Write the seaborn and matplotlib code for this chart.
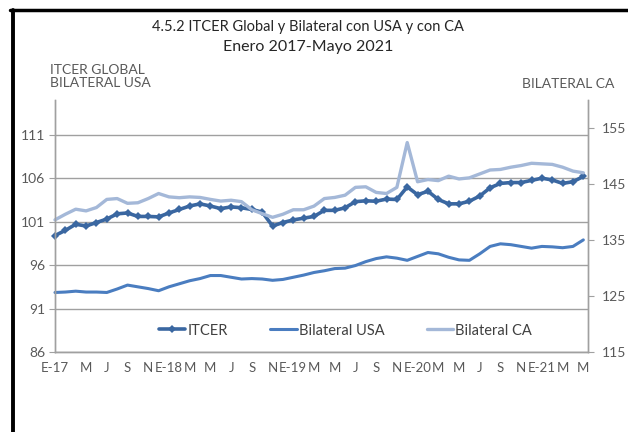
import numpy as np
import pandas as pd
import matplotlib.pyplot as plt
import seaborn as sns
from matplotlib.lines import Line2D

# ITCER global (eje izq), bilateral USA (eje izq), bilateral CA (eje der)
itcer = [99.4, 100.0, 100.7, 100.5, 100.9, 101.3, 101.9, 102.0, 101.6, 101.6,
         101.55, 102.0, 102.4, 102.8, 103.05, 102.8, 102.5, 102.7, 102.6, 102.4,
         102.1, 100.5, 100.9, 101.2, 101.4, 101.6, 102.3, 102.3, 102.6, 103.3,
         103.4, 103.35, 103.6, 103.55, 105.0, 104.1, 104.5, 103.55, 103.05, 103.05,
         103.35, 103.95, 104.9, 105.4, 105.5, 105.5, 105.75, 106.0, 105.8, 105.4,
         105.6, 106.2]
usa = [92.85, 92.9, 93.0, 92.9, 92.9, 92.85, 93.25, 93.7, 93.5, 93.3,
       93.05, 93.5, 93.85, 94.2, 94.45, 94.8, 94.8, 94.6, 94.4, 94.45,
       94.4, 94.25, 94.35, 94.6, 94.85, 95.15, 95.35, 95.6, 95.65, 95.95,
       96.4, 96.75, 96.95, 96.8, 96.55, 97.0, 97.45, 97.3, 96.9, 96.6,
       96.55, 97.3, 98.15, 98.45, 98.35, 98.15, 97.95, 98.15, 98.1, 98.0,
       98.15, 98.9]
ca = [138.6, 139.6, 140.5, 140.2, 140.8, 142.25, 142.4, 141.55, 141.65, 142.4,
      143.3, 142.7, 142.55, 142.7, 142.6, 142.25, 141.95, 142.1, 141.85, 140.4,
      139.7, 139.05, 139.6, 140.4, 140.4, 141.05, 142.4, 142.6, 143.0, 144.4,
      144.5, 143.5, 143.3, 144.4, 152.4, 145.4, 145.8, 145.6, 146.4, 145.9,
      146.1, 146.8, 147.5, 147.6, 148.0, 148.3, 148.7, 148.6, 148.5, 148.0,
      147.3, 147.0]

x_labels = ['E-17', 'M', 'J', 'S', 'N',
            'E-18', 'M', 'M', 'J', 'S', 'N',
            'E-19', 'M', 'M', 'J', 'S', 'N',
            'E-20', 'M', 'M', 'J', 'S', 'N',
            'E-21', 'M', 'M']

df = pd.DataFrame({'mes': np.arange(len(itcer)), 'ITCER': itcer,
                   'Bilateral USA': usa, 'Bilateral CA': ca})

c_itcer = '#3A67A1'
c_usa = '#4A7DC0'
c_ca = '#A4B8D8'
gris = '#595959'
linea = '#A0A0A0'

sns.set_style('white')
plt.rcParams['font.family'] = ['Lato', 'DejaVu Sans']

fig = plt.figure(figsize=(6.28, 4.32), dpi=100)
ax = fig.add_axes([55 / 628, 1 - 352 / 432, 533 / 628, 252 / 432])
ax2 = ax.twinx()

sns.lineplot(data=df, x='mes', y='Bilateral USA', ax=ax, color=c_usa, lw=2.2,
             clip_on=False, label='Bilateral USA', legend=False)
sns.lineplot(data=df, x='mes', y='ITCER', ax=ax, color=c_itcer, lw=2.6,
             marker='D', markersize=4.5, markeredgewidth=0, clip_on=False,
             label='ITCER', legend=False)
sns.lineplot(data=df, x='mes', y='Bilateral CA', ax=ax2, color=c_ca, lw=2.4,
             clip_on=False, label='Bilateral CA', legend=False)

ax.set_xlim(0, 51.45)
ax.set_ylim(86, 115)
ax2.set_ylim(115, 160)
ax.set_yticks(np.arange(86, 112, 5))
ax2.set_yticks(np.arange(115, 156, 10))
ax.yaxis.grid(True, color=linea, lw=1)
ax.set_xlabel('')
ax.set_ylabel('')
ax2.set_ylabel('')

# etiquetas del eje x (posiciones de meses)
pos = [0] + list(range(3, 52, 2))
ax.set_xticks(pos)
ax.set_xticklabels(x_labels)
ax.set_xticks(np.arange(0, 52, 2), minor=True)
ax.tick_params(axis='x', which='major', length=0, pad=7, labelsize=9.5, labelcolor=gris)
ax.tick_params(axis='x', which='minor', length=4, color=linea, direction='out')
ax.tick_params(axis='y', length=4, color=linea, direction='out', labelsize=10, labelcolor=gris, pad=3)
ax2.tick_params(axis='y', length=4, color=linea, direction='out', labelsize=10, labelcolor=gris, pad=6)

for a in (ax, ax2):
    a.spines['top'].set_visible(False)
    for s in ('left', 'right', 'bottom'):
        a.spines[s].set_color(linea)
        a.spines[s].set_linewidth(1)

h1, l1 = ax.get_legend_handles_labels()
h2, l2 = ax2.get_legend_handles_labels()
hd = dict(zip(l1 + l2, h1 + h2))
orden = ['ITCER', 'Bilateral USA', 'Bilateral CA']
ax2.legend([hd[k] for k in orden], orden, ncol=3, frameon=False,
           loc='center', bbox_to_anchor=(0.545, 0.085), handlelength=1.8,
           handletextpad=0.15, columnspacing=2.9, fontsize=10.5,
           labelcolor='#404040', markerscale=0.8)

fig.text(308 / 628, 1 - 27 / 432, '4.5.2 ITCER Global y Bilateral con USA y con CA',
         ha='center', va='center', fontsize=10.5, color='#262626')
fig.text(308 / 628, 1 - 47 / 432, 'Enero 2017-Mayo 2021',
         ha='center', va='center', fontsize=11.5, color='#262626')
fig.text(50 / 628, 1 - 64 / 432, 'ITCER GLOBAL\nBILATERAL USA', ha='left', va='top',
         fontsize=10, color=gris, linespacing=1.1)
fig.text(614 / 628, 1 - 84 / 432, 'BILATERAL CA', ha='right', va='center',
         fontsize=10, color=gris)

# marco negro recortado
fig.add_artist(Line2D([10 / 628, 1], [1 - 10 / 432, 1 - 10 / 432], color='black', lw=2.5))
fig.add_artist(Line2D([13 / 628, 13 / 628], [0, 1 - 10 / 432], color='black', lw=2.8))

fig.savefig('out.png', dpi=100)
